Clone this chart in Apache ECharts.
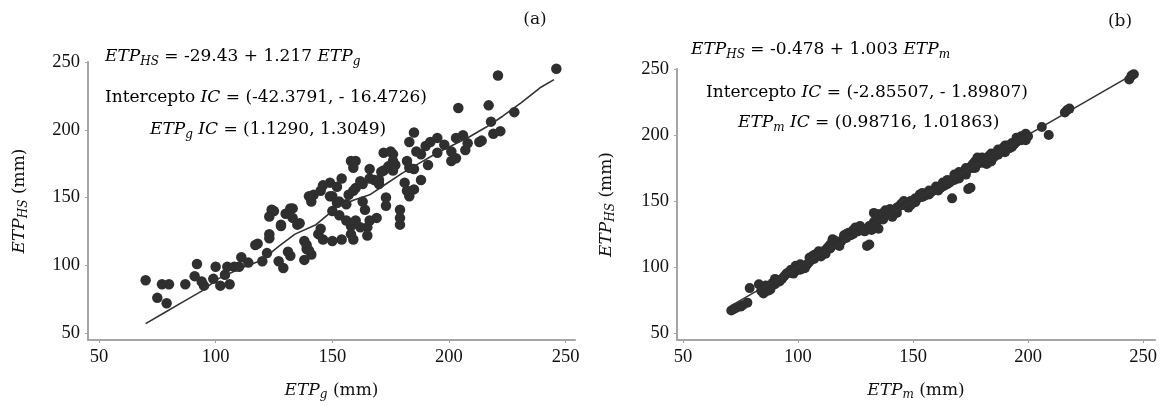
<!DOCTYPE html>
<html>
<head>
<meta charset="utf-8">
<script src="https://cdn.jsdelivr.net/npm/echarts@6/dist/echarts.min.js"></script>
<style>
html,body{margin:0;padding:0;background:#fff;}
#c{width:1160px;height:406px;}
</style>
</head>
<body>
<div id="c"></div>
<script>
// ---- data ----
const tickValues = [50, 100, 150, 200, 250];

// panel (a): ETP_g vs ETP_HS
const pointsA = [
 [70,89],[75,76],[79,72],[77,86],[80,86],[87,86],[91,92],[92,101],[94,88],[95,85],
 [99,90],[100,99],[102,85],[106,86],[104,93],[105,99],[108,99],[111,106],[114,102],[110,99],
 [118,116],[117,115],[120,103],[122,109],[123,120],[123,136],[124,141],[127,103],[129,98],[128,129],
 [130,138],[133,142],[136,131],[131,110],[132,107],[138,118],[139,112],[138,104],[140,151],[141,108],
 [142,152],[141,147],[145,155],[146,159],[149,161],[150,151],[150,140],[153,137],[156,133],[158,123],
 [154,119],[150,118],[146,119],[144,123],[145,127],[139,115],[140,111],[132,142],[133,135],[125,140],
 [128,130],[135,130],[123,123],[154,164],[158,177],[159,172],[160,177],[156,145],[153,147],[152,158],
 [149,151],[152,146],[157,152],[159,155],[160,157],[162,162],[163,160],[163,147],[164,141],[166,171],
 [166,164],[168,163],[170,160],[173,150],[173,144],[169,135],[166,133],[165,128],[165,122],[162,128],
 [160,133],[159,119],[158,129],[172,170],[174,173],[176,177],[177,174],[175,184],[176,182],[172,183],
 [170,163],[171,169],[176,170],[179,141],[179,135],[179,130],[181,161],[183,151],[185,156],[182,155],
 [188,163],[183,172],[185,171],[182,177],[186,184],[185,198],[183,191],[188,182],[191,174],[195,183],
 [190,188],[192,191],[195,194],[198,189],[201,184],[201,177],[203,179],[207,185],[208,190],[203,194],
 [206,196],[204,216],[214,192],[213,191],[219,197],[222,199],[218,206],[217,218],[228,213],[221,240],
 [246,245]
];
const lineA = [
 [70,57],[78,65],[86,73],[94,81],[101,90],[111,98],[120,104],[127,114],[134,123],[143,130],
 [152,143],[159,148],[166,152],[173,160],[180,168],[187,175],[195,183],[202,189],[209,195],[216,202],
 [223,210],[231,220],[239,231],[245,237]
];

// panel (b): ETP_m vs ETP_HS
const pointsB = [
 [71,67],[72,68],[75,70],[76,71],[79,84],[83,87],[84,82],[85,80],[86,84],[87,82],
 [88,85],[89,88],[90,87],[91,90],[92,89],[93,91],[96,96],[97,98],[98,95],[99,97],
 [100,100],[101,98],[102,99],[103,101],[104,102],[105,104],[106,108],[107,106],[108,110],[109,112],
 [110,108],[111,110],[112,113],[113,115],[114,114],[115,121],[116,117],[117,118],[118,119],[119,120],
 [120,124],[121,122],[122,126],[123,124],[124,128],[125,130],[126,127],[128,129],[130,116],[131,117],
 [131,131],[132,130],[133,141],[133,134],[134,132],[135,129],[136,138],[137,136],[138,143],[139,140],
 [140,144],[141,138],[142,142],[143,141],[144,146],[145,148],[146,147],[147,149],[148,145],[149,150],
 [150,150],[151,149],[152,152],[153,155],[154,153],[155,154],[156,156],[157,155],[158,157],[159,158],
 [160,159],[161,158],[162,160],[163,161],[164,162],[165,163],[166,164],[167,152],[168,166],[169,168],
 [170,167],[171,170],[172,172],[173,170],[174,159],[175,160],[174,174],[175,176],[176,178],[177,180],
 [177,175],[178,178],[179,181],[180,179],[181,182],[182,178],[183,184],[184,180],[185,183],[186,186],
 [187,185],[188,188],[189,190],[190,187],[191,192],[192,190],[193,194],[194,193],[195,195],[196,197],
 [197,196],[198,198],[199,196],[200,199],[206,206],[209,200],[216,217],[217,219],[218,220],[244,242],
 [245,245],[246,246],
 [73,69],[78,73],[86,86],[88,83],[90,91],[94,93],[95,95],[97,96],[99,101],[101,102],
 [103,99],[105,107],[107,109],[110,111],[112,110],[114,117],[116,120],[118,116],[121,125],[124,125],
 [127,131],[129,127],[132,128],[134,137],[135,140],[137,141],[140,141],[143,145],[146,150],[149,147],
 [151,152],[154,156],[157,158],[160,161],[163,164],[165,166],[168,170],[170,172],[173,175],[176,175],
 [178,183],[180,183],[182,181],[184,186],[187,189],[190,192],[193,191],[195,198],[197,199],[199,201]
];
const lineB = [[71,70.7],[246,246.3]];

// ---- chart ----
const FONT = '"DejaVu Serif", "Liberation Serif", serif';
const TICKFONT = '"Liberation Serif", "DejaVu Serif", serif';
const TXT = '#111111';
const rich = {
  i: {fontFamily: FONT, fontStyle: 'italic', fontSize: 17, color: TXT},
  r: {fontFamily: FONT, fontSize: 17, color: TXT},
  s: {fontFamily: FONT, fontStyle: 'italic', fontSize: 12, color: TXT, padding: [9, 0, 0, 0]}
};

function axisCommon(min, max) {
  return {
    type: 'value', min: min, max: max, scale: true,
    splitLine: {show: false},
    axisLine: {show: true, lineStyle: {color: '#a5a5a5', width: 2}},
    axisTick: {show: true, length: 3, customValues: tickValues, lineStyle: {color: '#a5a5a5', width: 1}},
    axisLabel: {customValues: tickValues, fontFamily: TICKFONT, fontSize: 18.5, color: TXT, margin: 8},
    nameLocation: 'middle',
    nameTextStyle: {rich: rich}
  };
}

const chart = echarts.init(document.getElementById('c'), null, {renderer: 'canvas'});
const dotColor = '#2f2f2f';

const option = {
  animation: false,
  backgroundColor: '#ffffff',
  grid: [
    {left: 88, top: 62, width: 487, height: 279},
    {left: 677, top: 69, width: 478, height: 273}
  ],
  xAxis: [
    Object.assign(axisCommon(45.3, 254), {gridIndex: 0, name: '{i|ETP}{s|g}{r| (mm)}', nameGap: 40}),
    Object.assign(axisCommon(47.4, 255.2), {gridIndex: 1, name: '{i|ETP}{s|m}{r| (mm)}', nameGap: 40})
  ],
  yAxis: [
    Object.assign(axisCommon(44.9, 250), {gridIndex: 0, name: '{i|ETP}{s|HS}{r| (mm)}', nameGap: 58}),
    Object.assign(axisCommon(44.7, 250), {gridIndex: 1, name: '{i|ETP}{s|HS}{r| (mm)}', nameGap: 60})
  ],
  series: [
    {type: 'scatter', xAxisIndex: 0, yAxisIndex: 0, data: pointsA, symbolSize: 10.5,
     itemStyle: {color: dotColor, opacity: 1}, silent: true, z: 2},
    {type: 'line', xAxisIndex: 0, yAxisIndex: 0, data: lineA, showSymbol: false, symbol: 'none',
     lineStyle: {color: '#333', width: 1.6}, silent: true, z: 3},
    {type: 'scatter', xAxisIndex: 1, yAxisIndex: 1, data: pointsB, symbolSize: 10,
     itemStyle: {color: dotColor, opacity: 1}, silent: true, z: 2},
    {type: 'line', xAxisIndex: 1, yAxisIndex: 1, data: lineB, showSymbol: false, symbol: 'none',
     lineStyle: {color: '#333', width: 1.6}, silent: true, z: 3}
  ],
  graphic: [
    {type: 'text', x: 535, y: 20, style: {text: '(a)', font: '17px ' + FONT, fill: TXT, align: 'center', verticalAlign: 'middle'}},
    {type: 'text', x: 1120, y: 22, style: {text: '(b)', font: '17px ' + FONT, fill: TXT, align: 'center', verticalAlign: 'middle'}},
    {type: 'text', x: 105, y: 57, style: {text: '{i|ETP}{s|HS}{r| = -29.43 + 1.217 }{i|ETP}{s|g}', rich: rich, verticalAlign: 'middle'}},
    {type: 'text', x: 105, y: 98, style: {text: '{r|Intercepto }{i|IC}{r| = (-42.3791, - 16.4726)}', rich: rich, verticalAlign: 'middle'}},
    {type: 'text', x: 150, y: 130, style: {text: '{i|ETP}{s|g}{i| IC}{r| = (1.1290, 1.3049)}', rich: rich, verticalAlign: 'middle'}},
    {type: 'text', x: 691, y: 50, style: {text: '{i|ETP}{s|HS}{r| = -0.478 + 1.003 }{i|ETP}{s|m}', rich: rich, verticalAlign: 'middle'}},
    {type: 'text', x: 706, y: 93, style: {text: '{r|Intercepto }{i|IC}{r| = (-2.85507, - 1.89807)}', rich: rich, verticalAlign: 'middle'}},
    {type: 'text', x: 738, y: 123, style: {text: '{i|ETP}{s|m}{i| IC}{r| = (0.98716, 1.01863)}', rich: rich, verticalAlign: 'middle'}}
  ]
};
chart.setOption(option);
</script>
</body>
</html>
